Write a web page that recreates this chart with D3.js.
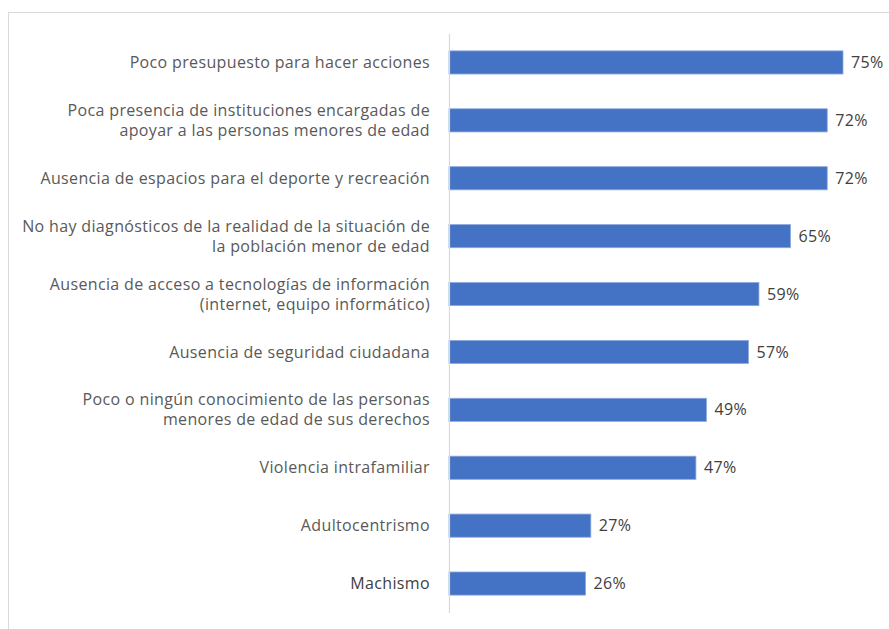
<!DOCTYPE html>
<html><head><meta charset="utf-8">
<script src="https://cdn.jsdelivr.net/npm/d3@7"></script>
<style>body{margin:0;background:#fff}svg{display:block}</style>
</head><body>
<svg id="c" width="889" height="629"></svg>
<script>
const categories = [
  ["Poco presupuesto para hacer acciones"],
  ["Poca presencia de instituciones encargadas de", "apoyar a las personas menores de edad"],
  ["Ausencia de espacios para el deporte y recreación"],
  ["No hay diagnósticos de la realidad de la situación de", "la población menor de edad"],
  ["Ausencia de acceso a tecnologías de información", "(internet, equipo informático)"],
  ["Ausencia de seguridad ciudadana"],
  ["Poco o ningún conocimiento de las personas", "menores de edad de sus derechos"],
  ["Violencia intrafamiliar"],
  ["Adultocentrismo"],
  ["Machismo"]
];
const values = [75, 72, 72, 65, 59, 57, 49, 47, 27, 26];
const valueLabels = ["75%", "72%", "72%", "65%", "59%", "57%", "49%", "47%", "27%", "26%"];

const svg = d3.select("#c");
const font = "'Open Sans', sans-serif";

// outer border (cut off at right/bottom)
svg.append("rect").attr("x", 8.5).attr("y", 12.5).attr("width", 900).attr("height", 700)
  .attr("fill", "none").attr("stroke", "#d9d9d9").attr("stroke-width", 1);

const x = d3.scaleLinear().domain([0, 75]).range([449, 843]);
const idx = d3.range(values.length);
const y = d3.scaleBand().domain(idx).range([33.5, 612.5]).paddingInner(0.6).paddingOuter(0.3);

svg.append("g").selectAll("rect").data(idx).join("rect")
  .attr("x", x(0)).attr("y", i => y(i)).attr("width", i => x(values[i]) - x(0))
  .attr("height", y.bandwidth()).attr("fill", "#4472c4")
  .attr("stroke", "#8eaadb").attr("stroke-width", 0.8);

// axis line
const yAxis = d3.axisLeft(y).tickSize(0).tickFormat("");
const ga = svg.append("g").attr("transform", `translate(${x(0)},0)`).call(yAxis);
ga.select(".domain").attr("stroke", "#d9d9d9").attr("stroke-width", 1.2);

// category labels
const lh = 20;
const lab = svg.append("g").selectAll("text").data(idx).join("text")
  .attr("x", 430).attr("text-anchor", "end")
  .attr("font-family", font).attr("font-size", 16).attr("letter-spacing", 0.35)
  .attr("fill", i => i === categories.length - 1 ? "#404040" : "#595959")
  .attr("y", i => y(i) + y.bandwidth() / 2 - (categories[i].length - 1) * lh / 2);
lab.each(function(i) {
  const t = d3.select(this);
  categories[i].forEach((line, k) => {
    t.append("tspan").attr("x", 430).attr("dy", k === 0 ? "0.35em" : lh).text(line);
  });
});

// value labels
svg.append("g").selectAll("text").data(idx).join("text")
  .attr("x", i => x(values[i]) + 8).attr("y", i => y(i) + y.bandwidth() / 2)
  .attr("dy", "0.35em")
  .attr("font-family", font).attr("font-size", 16).attr("letter-spacing", 0.35).attr("fill", "#404040")
  .text(i => valueLabels[i]);
</script>
</body></html>
